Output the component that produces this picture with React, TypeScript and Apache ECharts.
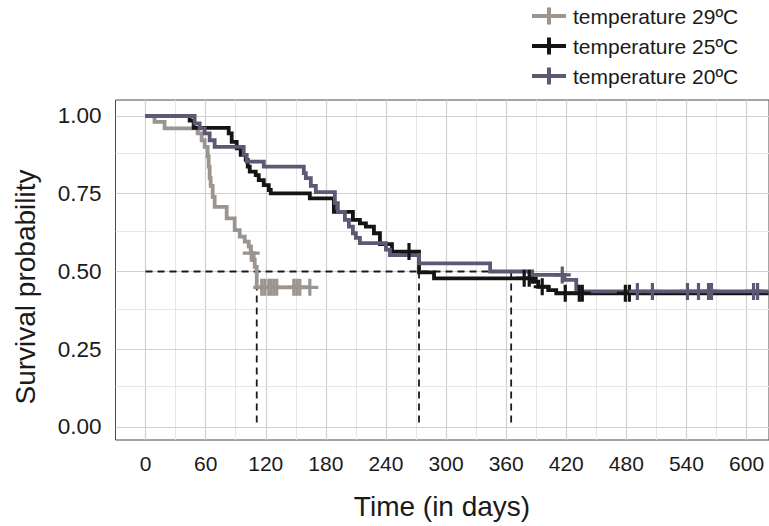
import React, { useEffect, useRef } from 'react';
import * as echarts from 'echarts';

const FONT = "'Liberation Sans', Arial, Helvetica, sans-serif";

const SERIES_NAMES = ['temperature 29ºC', 'temperature 25ºC', 'temperature 20ºC'];
const SERIES_COLORS = ['#9c948f', '#141414', '#5d5873'];

// Kaplan-Meier curves: event times and survival after each time
const T29_TIME = [0, 9, 19, 52, 56, 59, 62, 63, 64, 65, 67, 69, 81, 89, 94, 99, 103, 105, 108, 109, 111, 164];
const T29_SURV = [1, 0.981, 0.96, 0.944, 0.922, 0.901, 0.87, 0.837, 0.8, 0.775, 0.74, 0.708, 0.671, 0.633, 0.612, 0.596, 0.58, 0.559, 0.537, 0.515, 0.449, 0.449];
const T29_CENSOR = [105.5, 116, 119, 123, 125, 128, 131, 148, 151, 154, 164];

const T25_TIME = [0, 44, 48, 83, 86, 91, 95, 100, 102, 104, 110, 113, 118, 123, 125, 164, 188, 207, 214, 220, 228, 234, 246, 273, 288, 386, 392, 402, 410, 622];
const T25_SURV = [1, 0.985, 0.962, 0.944, 0.917, 0.896, 0.875, 0.859, 0.837, 0.821, 0.81, 0.794, 0.778, 0.762, 0.751, 0.735, 0.692, 0.666, 0.655, 0.644, 0.623, 0.588, 0.564, 0.497, 0.478, 0.467, 0.451, 0.44, 0.43, 0.43];
const T25_CENSOR = [263, 378, 383, 396, 419, 433, 436, 479, 483];

const T20_TIME = [0, 49, 54, 59, 64, 69, 98, 101, 118, 158, 160, 165, 170, 189, 192, 199, 203, 207, 210, 214, 240, 244, 273, 344, 386, 418, 430, 622];
const T20_SURV = [1, 0.976, 0.96, 0.944, 0.922, 0.901, 0.875, 0.853, 0.837, 0.816, 0.8, 0.775, 0.755, 0.72, 0.692, 0.666, 0.644, 0.623, 0.608, 0.591, 0.57, 0.553, 0.526, 0.5, 0.489, 0.473, 0.436, 0.436];
const T20_CENSOR = [416, 491, 506, 541, 552, 562, 565, 607, 611];

const MEDIANS = [111, 273, 365];

const X_TICKS = [0, 60, 120, 180, 240, 300, 360, 420, 480, 540, 600];
const X_GRID = [0, 30, 60, 90, 120, 150, 180, 210, 240, 270, 300, 330, 360, 390, 420, 450, 480, 510, 540, 570, 600];
const Y_TICKS = [0, 0.25, 0.5, 0.75, 1];
const Y_GRID = [0, 0.125, 0.25, 0.375, 0.5, 0.625, 0.75, 0.875, 1];

const CURVES = [
  { time: T29_TIME, surv: T29_SURV, censor: T29_CENSOR },
  { time: T25_TIME, surv: T25_SURV, censor: T25_CENSOR },
  { time: T20_TIME, surv: T20_SURV, censor: T20_CENSOR },
];

function toSteps(time: number[], surv: number[]) {
  const out: number[][] = [];
  for (let i = 0; i < time.length; i++) {
    if (i > 0) out.push([time[i], surv[i - 1]]);
    out.push([time[i], surv[i]]);
  }
  return out;
}

function survAt(t: number, time: number[], surv: number[]) {
  let v = surv[0];
  for (let i = 0; i < time.length; i++) {
    if (time[i] <= t) v = surv[i];
  }
  return v;
}

const PLUS = 'path://M6.5,0h3v6.5h6.5v3h-6.5v6.5h-3v-6.5h-6.5v-3h6.5z';
const LEGEND_ICON = 'path://M0,6.5h34v4h-34z M15,0h4v17h-4z';
const MAJOR = '#d0d0d0';
const MINOR = '#e6e6e6';

function buildOption() {
  const gridLines = [
    ...X_GRID.map((v) => ({
      xAxis: v,
      lineStyle: { color: v % 60 === 0 ? MAJOR : MINOR, width: v % 60 === 0 ? 1.2 : 1, type: 'solid' },
    })),
    ...Y_GRID.map((v) => ({
      yAxis: v,
      lineStyle: { color: Math.round(v * 1000) % 250 === 0 ? MAJOR : MINOR, width: Math.round(v * 1000) % 250 === 0 ? 1.2 : 1, type: 'solid' },
    })),
  ];

  const maxMedian = Math.max(...MEDIANS);
  const dashedSegments = [
    [[0, 0.5], [maxMedian, 0.5]],
    ...MEDIANS.map((m) => [[m, 0.5], [m, 0]]),
  ];

  const series: any[] = [];
  series.push({
    type: 'line',
    name: 'grid',
    data: [],
    silent: true,
    z: 1,
    markLine: {
      z: 1,
      silent: true,
      symbol: ['none', 'none'],
      label: { show: false },
      emphasis: { disabled: true },
      animation: false,
      data: gridLines,
    },
  });
  dashedSegments.forEach((seg, i) => {
    series.push({
      type: 'line',
      name: 'median' + i,
      data: seg,
      showSymbol: false,
      silent: true,
      z: 2,
      lineStyle: { color: '#1a1a1a', width: 1.8, type: [7, 5] },
    });
  });
  CURVES.forEach((c, i) => {
    series.push({
      type: 'line',
      name: SERIES_NAMES[i],
      data: toSteps(c.time, c.surv),
      showSymbol: false,
      silent: true,
      z: 3,
      color: SERIES_COLORS[i],
      itemStyle: { color: SERIES_COLORS[i] },
      lineStyle: { color: SERIES_COLORS[i], width: 3.8, join: 'miter', cap: 'butt' },
    });
  });
  CURVES.forEach((c, i) => {
    series.push({
      type: 'scatter',
      name: 'censor' + i,
      data: c.censor.map((t) => [t, survAt(t, c.time, c.surv)]),
      symbol: PLUS,
      symbolSize: 17,
      silent: true,
      z: 4,
      itemStyle: { color: SERIES_COLORS[i], opacity: 1 },
    });
  });

  return {
    animation: false,
    backgroundColor: '#ffffff',
    grid: {
      left: 115.5,
      right: 0,
      top: 100,
      bottom: 86,
      show: true,
      borderColor: '#4a4a4a',
      borderWidth: 1,
      backgroundColor: '#ffffff',
    },
    legend: {
      data: SERIES_NAMES.map((n, i) => ({ name: n, itemStyle: { color: SERIES_COLORS[i] } })),
      orient: 'vertical',
      left: 527,
      top: 0.5,
      itemWidth: 34,
      itemHeight: 17,
      itemGap: 9,
      icon: LEGEND_ICON,
      selectedMode: false,
      itemStyle: { borderWidth: 0 },
      textStyle: { fontSize: 21, color: '#1a1a1a', fontFamily: FONT, padding: [0, 0, 0, 2] },
    },
    xAxis: {
      type: 'value',
      min: -30,
      max: 622.4,
      axisLine: { show: false },
      splitLine: { show: false },
      axisTick: { show: true, customValues: X_TICKS, length: 6, lineStyle: { color: '#333', width: 1 } },
      axisLabel: { customValues: X_TICKS, margin: 13, fontSize: 21, color: '#1a1a1a', fontFamily: FONT },
    },
    yAxis: {
      type: 'value',
      min: -0.0418,
      max: 1.0514,
      axisLine: { show: false },
      splitLine: { show: false },
      axisTick: { show: true, customValues: Y_TICKS, length: 6, lineStyle: { color: '#333', width: 1 } },
      axisLabel: {
        customValues: Y_TICKS,
        margin: 14,
        fontSize: 22.5,
        color: '#1a1a1a',
        fontFamily: FONT,
        formatter: (v: number) => v.toFixed(2),
      },
    },
    graphic: [
      {
        type: 'text',
        x: 442,
        y: 506,
        silent: true,
        style: {
          text: 'Time (in days)',
          font: `28px ${FONT}`,
          fill: '#1a1a1a',
          align: 'center',
          verticalAlign: 'middle',
          textAlign: 'center',
          textVerticalAlign: 'middle',
        },
      },
      {
        type: 'text',
        x: 25,
        y: 287,
        rotation: Math.PI / 2,
        silent: true,
        style: {
          text: 'Survival probability',
          font: `28px ${FONT}`,
          fill: '#1a1a1a',
          align: 'center',
          verticalAlign: 'middle',
          textAlign: 'center',
          textVerticalAlign: 'middle',
        },
      },
    ],
    series,
  };
}

export default function App() {
  const ref = useRef<HTMLDivElement>(null);
  useEffect(() => {
    document.body.style.margin = '0';
    const chart = echarts.init(ref.current as HTMLDivElement, undefined, { renderer: 'svg' });
    chart.setOption(buildOption() as any);
    return () => chart.dispose();
  }, []);
  return (
    <div
      ref={ref}
      style={{ position: 'absolute', left: 0, top: 0, width: 769, height: 526, background: '#ffffff' }}
    />
  );
}
